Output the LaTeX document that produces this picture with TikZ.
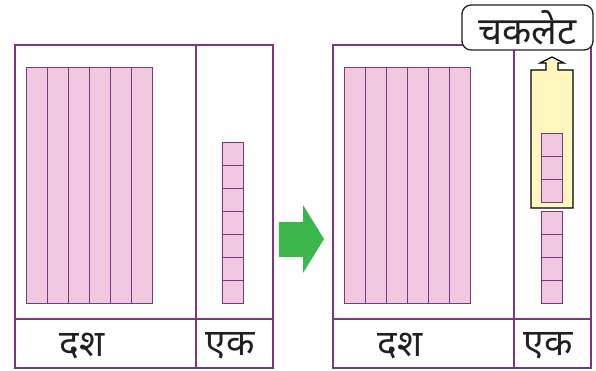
\documentclass[tikz,border=0pt]{standalone}
\usepackage{fontspec}
\newfontfamily\devfont[Script=Devanagari]{Noto Sans}
\usetikzlibrary{positioning}
\definecolor{framepurple}{RGB}{125, 55, 125}
\definecolor{blockpink}{RGB}{240, 200, 224}
\definecolor{boxyellow}{RGB}{255, 247, 190}
\definecolor{arrowgreen}{RGB}{58, 182, 74}
\definecolor{inkgray}{RGB}{35, 31, 32}

\begin{document}
\begin{tikzpicture}[x=1pt, y=-1pt,
  frame/.style={draw=framepurple, line width=1.3pt},
  rodbox/.style={draw=framepurple, fill=blockpink, line width=0.8pt},
  cubebox/.style={draw=framepurple, fill=blockpink, line width=0.8pt},
  lbl/.style={font=\devfont\fontsize{37}{42}\selectfont, text=inkgray, inner sep=0pt}
]
  \useasboundingbox (0, 0) rectangle (596, 370);

  % two place-value panels, the second shifted right
  \foreach \dx/\p in {0/l, 318/r} {
    \begin{scope}[shift={(\dx, 0)}]
      \draw[frame] (15, 45) rectangle (273, 368);
      \draw[frame] (196, 45) -- (196, 368);
      \draw[frame] (15, 319) -- (273, 319);
      \foreach \i in {0, ..., 5}
        \draw[rodbox] (26 + 21*\i, 67) rectangle (47 + 21*\i, 303);
      \node[lbl] (tens-\p) at (82, 346) {दश};
      \node[lbl] (ones-\p) at (230, 346) {एक};
    \end{scope}
  }

  % loose cubes on the left
  \foreach \i in {0, ..., 6}
    \draw[cubebox] (222, 142 + 23*\i) rectangle (243, 165 + 23*\i);

  % right: four cubes stay, three go into the box
  \foreach \i in {0, ..., 3}
    \draw[cubebox] (541, 211 + 23*\i) rectangle (562, 234 + 23*\i);
  \draw[fill=boxyellow, line width=1.3pt, line join=miter]
    (531, 208) -- (531, 70) -- (546, 70) -- (546, 63) -- (540, 63)
    -- (552, 57) -- (564, 63) -- (558, 63) -- (558, 70) -- (573, 70)
    -- (573, 208) -- cycle;
  \foreach \i in {0, ..., 2}
    \draw[cubebox] (541, 133 + 23*\i) rectangle (562, 156 + 23*\i);

  \node[lbl, font=\devfont\fontsize{38}{43}\selectfont, draw=inkgray, fill=white,
    line width=1.3pt, rounded corners=9pt,
    minimum width=131pt, minimum height=45pt] (choc) at (527.5, 27.5) {चकलेट};

  % green arrow between the panels
  \fill[arrowgreen] (279, 222) -- (303, 222) -- (303, 205) -- (324, 239)
    -- (303, 273) -- (303, 257) -- (279, 257) -- cycle;
\end{tikzpicture}
\end{document}
